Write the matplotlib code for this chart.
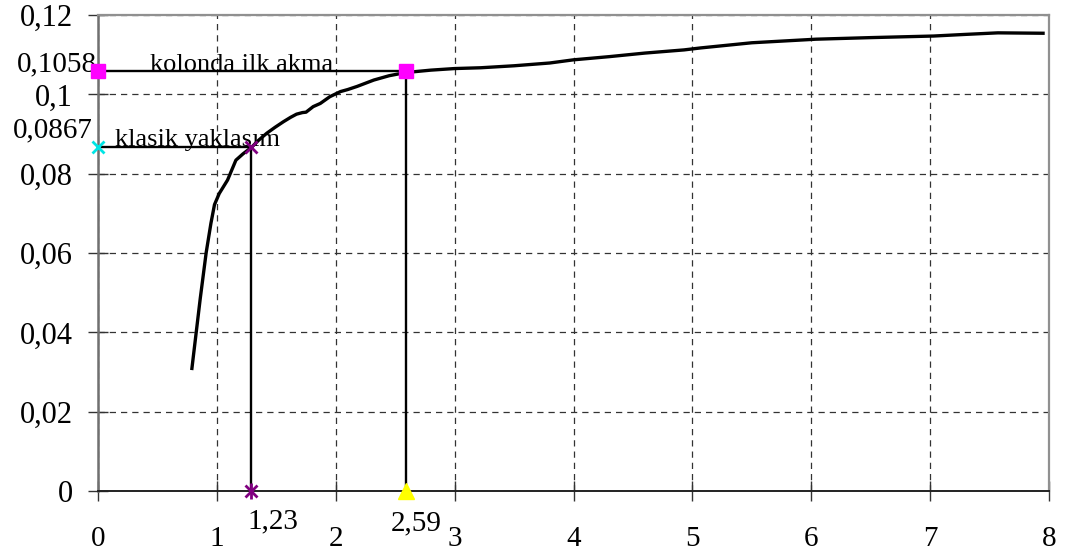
import numpy as np
import matplotlib.pyplot as plt

# Curve
curve_x = [0.79, 0.86, 0.91, 0.95, 0.98, 1.02, 1.09, 1.16, 1.22, 1.29,
           1.35, 1.42, 1.49, 1.56, 1.62, 1.67, 1.72, 1.75, 1.81, 1.87, 1.95,
           2.04, 2.10, 2.18, 2.32, 2.45, 2.59, 2.80, 3.00, 3.22,
           3.50, 3.80, 4.00, 4.30, 4.60, 4.93, 5.07, 5.50, 6.04, 6.50,
           7.03, 7.29, 7.57, 7.95]
curve_y = [0.0309, 0.0485, 0.0601, 0.0675, 0.0722, 0.0750, 0.0784, 0.0834, 0.0850, 0.0866,
           0.0884, 0.0902, 0.0917, 0.0931, 0.0942, 0.0950, 0.0954, 0.0955, 0.0969, 0.0977, 0.0994,
           0.1007, 0.1012, 0.1020, 0.1036, 0.1047, 0.1055, 0.1061, 0.1065, 0.1067,
           0.1072, 0.1079, 0.1087, 0.1095, 0.1104, 0.1112, 0.1117, 0.1130, 0.1139, 0.1143,
           0.1147, 0.1151, 0.1155, 0.1154]

# "kolonda ilk akma" point
akma_x = 2.59
akma_y = 0.1058
akma_label = "kolonda ilk akma"

# "klasik yaklasım" point (drawn position, label says 1,23)
klasik_x = 1.29
klasik_y = 0.0867
klasik_label = "klasik yaklasım"

x_ticks = [0, 1, 2, 3, 4, 5, 6, 7, 8]
y_ticks = [0, 0.02, 0.04, 0.06, 0.08, 0.1, 0.12]
y_tick_labels = ["0", "0,02", "0,04", "0,06", "0,08", "0,1", "0,12"]

plt.rcParams['font.family'] = ['Liberation Serif', 'DejaVu Serif']

fig = plt.figure(figsize=(10.66, 5.6), dpi=100)
ax = fig.add_axes([98 / 1066, 1 - 491 / 560, 951 / 1066, 476 / 560])
ax.set_xlim(0, 8)
ax.set_ylim(0, 0.12)

ax.grid(True, color='#333333', linestyle=(0, (5, 4)), linewidth=0.9)
ax.set_axisbelow(True)

ax.set_xticks(x_ticks)
ax.set_xticklabels([str(t) for t in x_ticks])
ax.set_yticks(y_ticks)
ax.set_yticklabels(y_tick_labels)
ax.tick_params(axis='both', direction='inout', length=14, width=1, color='#333333')
ax.tick_params(axis='x', labelsize=21, pad=18)
ax.tick_params(axis='y', labelsize=22, pad=11)

for side in ['top', 'right']:
    ax.spines[side].set_color('#909090')
    ax.spines[side].set_linewidth(1.6)
ax.spines['left'].set_color('#707070')
ax.spines['left'].set_linewidth(1.8)
ax.spines['bottom'].set_color('#222222')
ax.spines['bottom'].set_linewidth(1.4)

# main curve
ax.plot(curve_x, curve_y, color='black', linewidth=2.4)

# guide lines
ax.plot([0, akma_x, akma_x], [akma_y, akma_y, 0], color='black', linewidth=1.7, clip_on=False)
ax.plot([0, klasik_x, klasik_x], [klasik_y, klasik_y, 0], color='black', linewidth=1.7, clip_on=False)

# markers
ax.plot([0, akma_x], [akma_y, akma_y], linestyle='none', marker='s', markersize=10,
        color='#ff00ff', clip_on=False, zorder=5)
ax.plot([akma_x], [0], linestyle='none', marker='^', markersize=11,
        color='#ffff00', clip_on=False, zorder=5)
ax.plot([0], [klasik_y], linestyle='none', marker='x', markersize=9, markeredgewidth=2,
        color='#00e5e5', clip_on=False, zorder=5)
ax.plot([klasik_x], [klasik_y], linestyle='none', marker='x', markersize=9, markeredgewidth=2,
        color='#800080', clip_on=False, zorder=5)
ax.plot([klasik_x], [0], linestyle='none', marker='x', markersize=9, markeredgewidth=2,
        color='#800080', clip_on=False, zorder=5)
ax.plot([klasik_x], [0], linestyle='none', marker='|', markersize=12, markeredgewidth=2,
        color='#800080', clip_on=False, zorder=5)

# value labels
ax.annotate("0,1058", (0, akma_y), xytext=(-1, 7), textcoords='offset pixels',
            ha='right', va='center', fontsize=21, annotation_clip=False)
ax.annotate("0,0867", (0, klasik_y), xytext=(-5, 17), textcoords='offset pixels',
            ha='right', va='center', fontsize=21, annotation_clip=False)
ax.annotate(akma_label, (0, akma_y), xytext=(52, 0), textcoords='offset pixels',
            ha='left', va='baseline', fontsize=19, annotation_clip=False)
ax.annotate(klasik_label, (0, klasik_y), xytext=(17, 1), textcoords='offset pixels',
            ha='left', va='baseline', fontsize=19, annotation_clip=False)
ax.annotate("1,23", (klasik_x, 0), xytext=(22, -30), textcoords='offset pixels',
            ha='center', va='center', fontsize=21, annotation_clip=False)
ax.annotate("2,59", (akma_x, 0), xytext=(10, -32), textcoords='offset pixels',
            ha='center', va='center', fontsize=21, annotation_clip=False)

fig.savefig('out.png', dpi=100)
